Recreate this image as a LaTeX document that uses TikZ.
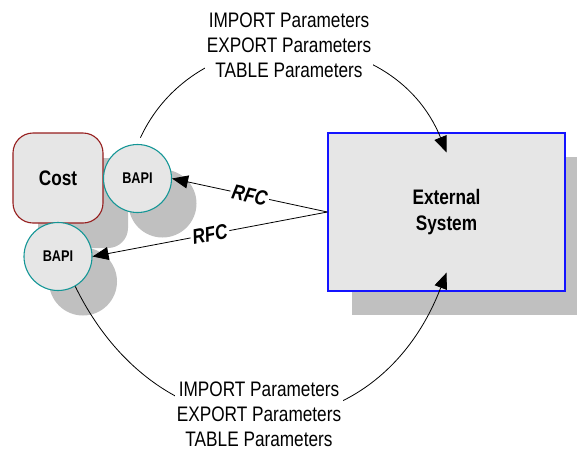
\documentclass[tikz,border=0pt]{standalone}
\usepackage{fontspec}
\setmainfont[FakeStretch=0.82]{Liberation Sans}
\usetikzlibrary{arrows.meta,shadows}
\definecolor{boxgray}{RGB}{230,230,230}
\definecolor{shadowgray}{RGB}{192,192,192}
\definecolor{costred}{RGB}{150,30,30}
\definecolor{bapiteal}{RGB}{20,150,150}
\definecolor{extblue}{RGB}{20,20,255}
\begin{document}
\begin{tikzpicture}[x=1pt,y=1pt,
    castshadow/.style={drop shadow={shadow xshift=25pt,shadow yshift=-25pt,fill=shadowgray,opacity=1}},
    costbox/.style={castshadow,draw=costred,fill=boxgray,rounded corners=20pt,minimum width=90pt,minimum height=90pt,line width=1.1pt,font=\fontsize{21}{25}\selectfont\bfseries},
    bapi/.style={castshadow,circle,draw=bapiteal,fill=boxgray,minimum size=68pt,inner sep=0pt,line width=1.1pt,font=\fontsize{15.5}{18}\selectfont\bfseries},
    extbox/.style={drop shadow={shadow xshift=24pt,shadow yshift=-24pt,fill=shadowgray,opacity=1},draw=extblue,fill=boxgray,minimum width=237pt,minimum height=158pt,line width=1.3pt,align=center,font=\fontsize{21}{26}\selectfont\bfseries},
    params/.style={fill=white,align=center,inner sep=2pt,font=\fontsize{21}{25}\selectfont},
    flow/.style={line width=0.8pt,-{Triangle[length=16pt,width=13pt]}},
    rfc/.style={fill=white,sloped,inner sep=2pt,font=\fontsize{21}{24}\selectfont\bfseries\itshape}]
    \useasboundingbox (0,0) rectangle (577,-451);
    \clip (0,0) rectangle (577,-451);
    % blocks
    \node[costbox] (cost) at (58,-178) {Cost};
    \node[bapi] (bapi1) at (137.5,-178.5) {BAPI};
    \node[bapi] (bapi2) at (58,-256.5) {BAPI};
    \node[extbox] (ext) at (446.5,-212) {External\\System};
    % calls
    \draw[flow] (ext.west) -- node[rfc] {RFC} (bapi1.east);
    \draw[flow] (ext.west) -- node[rfc] {RFC} (bapi2.east);
    % parameter flows
    \draw[flow,shorten <=7pt] (bapi1.north) to[out=65,in=112,looseness=1.2] ([yshift=-20pt]ext.north);
    \draw[flow] (bapi2.300) to[out=-64,in=-111,looseness=1.38] ([yshift=19pt]ext.south);
    \node[params] (ptop) at (289,-45) {IMPORT Parameters\\EXPORT Parameters\\TABLE Parameters};
    \node[params] (pbot) at (259,-414) {IMPORT Parameters\\EXPORT Parameters\\TABLE Parameters};
\end{tikzpicture}
\end{document}
